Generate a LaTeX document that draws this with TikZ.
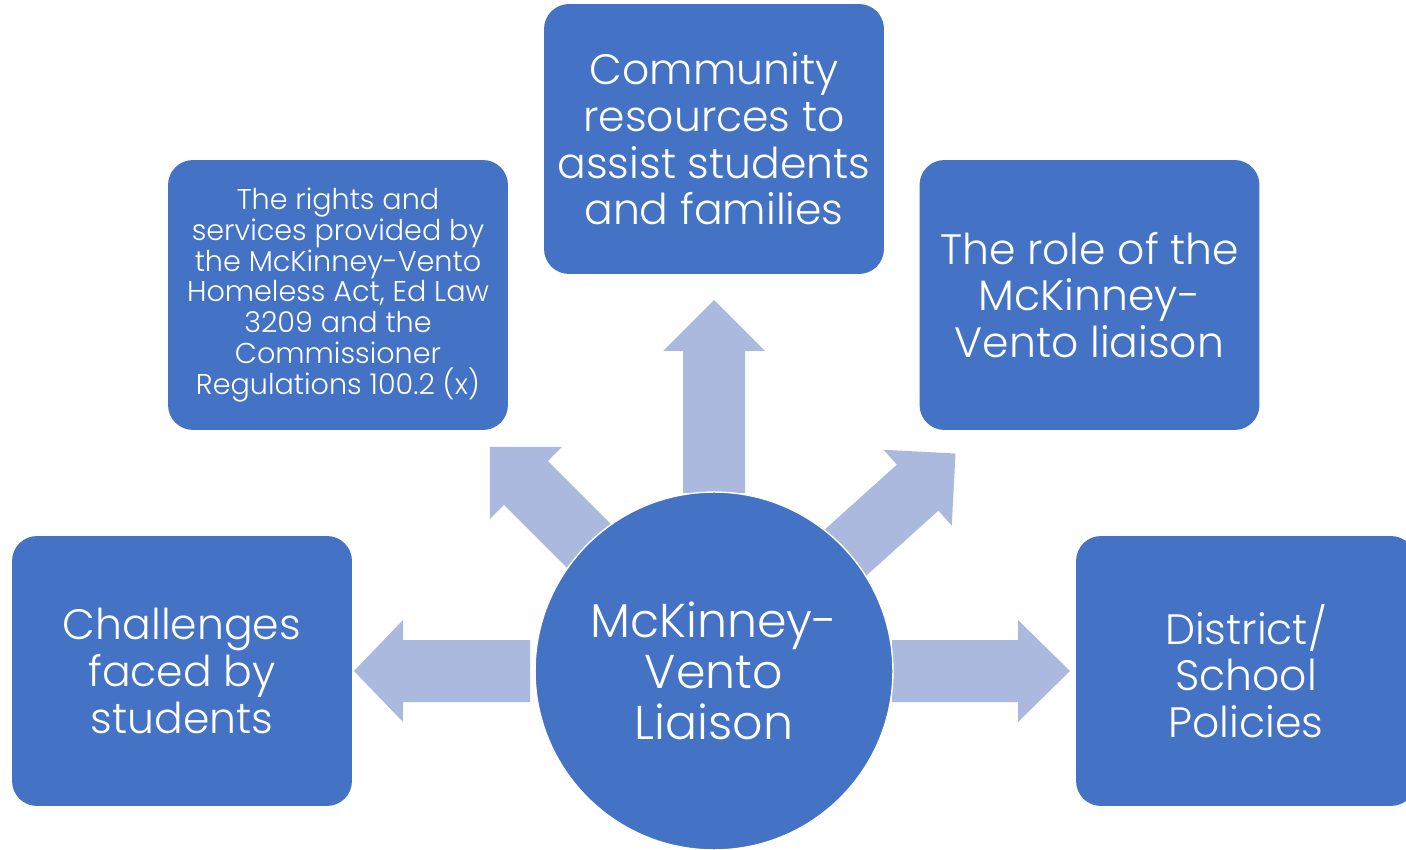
\documentclass[tikz,border=0pt]{standalone}
\usepackage{fontspec}
\setmainfont{Poppins}[UprightFont=* Light]
\definecolor{boxblue}{HTML}{4472C4}
\definecolor{arrowblue}{HTML}{ABB9DE}
\newcommand{\blockarrow}[4]{%
  \begin{scope}[shift={(ctr.center)}, rotate=#1]
    \fill[arrowblue] (#2,-31) -- (#3,-31) -- (#3,-51) -- (#4,0) -- (#3,51) -- (#3,31) -- (#2,31) -- cycle;
  \end{scope}}
\begin{document}
\begin{tikzpicture}[x=0.02cm,y=0.02cm,
  blk/.style={fill=boxblue, rounded corners=0.5cm, text=white, align=center,
    inner sep=0pt, minimum width=6.8cm, minimum height=5.4cm},
  big/.style={font=\fontsize{24.2}{26.6}\selectfont},
  small/.style={font=\fontsize{16.3}{17.6}\selectfont},
  hub/.style={circle, fill=boxblue, draw=white, line width=0.8pt, text=white, align=center,
    inner sep=0pt, minimum size=7.16cm, font=\fontsize{27}{28.9}\selectfont}]
\clip (0,0) rectangle (1406,849);
\coordinate (ctr) at (714,178);
% block arrows
\blockarrow{180}{184}{311}{360}
\blockarrow{0}{178}{304}{356}
\blockarrow{90}{178}{320}{371}
\blockarrow{135}{120}{266}{317}
\blockarrow{42}{120}{274}{325}
% hub
\node[hub] (hub) at (ctr) {McKinney-\\Vento\\Liaison};
% boxes
\node[blk, big] (chal) at (182,178) {Challenges\\faced by\\students};
\node[blk, small] (rights) at (338,554) {The rights and\\services provided by\\the McKinney-Vento\\Homeless Act, Ed Law\\3209 and the\\Commissioner\\Regulations 100.2 (x)};
\node[blk, big] (comm) at (714,710) {Community\\resources to\\assist students\\and families};
\node[blk, big] (role) at (1089.5,554) {The role of the\\McKinney-\\Vento liaison};
\node[blk, big] (dist) at (1246,178) {District/\\School\\Policies};
\end{tikzpicture}
\end{document}
